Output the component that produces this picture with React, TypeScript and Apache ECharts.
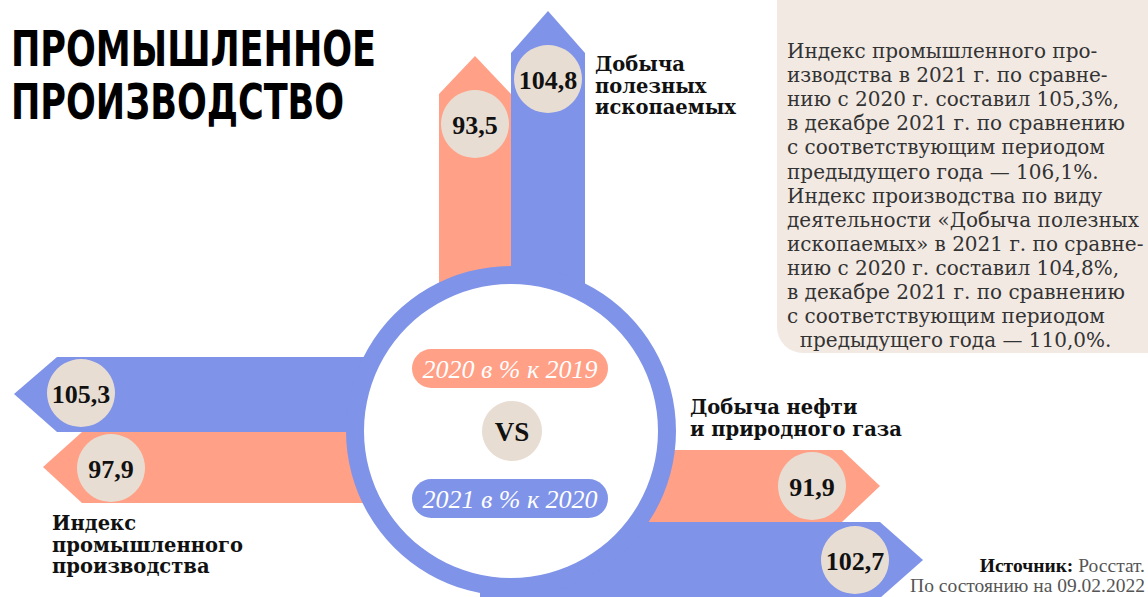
import React, { useEffect, useRef } from "react";
import * as echarts from "echarts";

// ---- data ----
const groupLabels: string[][] = [
  ["Индекс", "промышленного", "производства"],
  ["Добыча", "полезных", "ископаемых"],
  ["Добыча нефти", "и природного газа"],
];
const values2020: number[] = [97.9, 93.5, 91.9]; // 2020 в % к 2019
const values2021: number[] = [105.3, 104.8, 102.7]; // 2021 в % к 2020
const seriesNames: string[] = ["2020 в % к 2019", "2021 в % к 2020"];
const titleLines: string[] = ["ПРОМЫШЛЕННОЕ", "ПРОИЗВОДСТВО"];
const noteLines: string[] = [
  "Индекс промышленного про-",
  "изводства в 2021 г. по сравне-",
  "нию с 2020 г. составил 105,3%,",
  "в декабре 2021 г. по сравнению",
  "с соответствующим периодом",
  "предыдущего года — 106,1%.",
  "Индекс производства по виду",
  "деятельности «Добыча полезных",
  "ископаемых» в 2021 г. по сравне-",
  "нию с 2020 г. составил 104,8%,",
  "в декабре 2021 г. по сравнению",
  "с соответствующим периодом",
  "  предыдущего года — 110,0%.",
];
const sourceLabel = "Источник:";
const sourceName = "Росстат.";
const dateLine = "По состоянию на 09.02.2022";
const vsLabel = "VS";

// ---- styles ----
const BLUE = "#7f93e8";
const ORANGE = "#ffa087";
const BEIGE = "#e8ddd2";
const BOX = "#f2e9e3";
const SERIF = "'DejaVu Serif', serif";
const NUMFONT = "'Liberation Serif', serif";

const fmt = (v: number) => v.toFixed(1).replace(".", ",");

// layout per group: [2020 arrow, 2021 arrow] polygons + value circle centers
const layout = [
  {
    // left
    a2020: [[43, 467], [82, 432], [450, 432], [450, 503], [82, 503]],
    a2021: [[14, 394], [57, 357], [450, 357], [450, 432], [57, 432]],
    c2020: [111, 468],
    c2021: [81, 393],
    label: { x: 52, y: 513 },
  },
  {
    // up
    a2020: [[439, 94], [475, 56], [511, 94], [511, 360], [439, 360]],
    a2021: [[511, 53], [548, 11], [585, 53], [585, 360], [511, 360]],
    c2020: [475, 124],
    c2021: [548, 79],
    label: { x: 595, y: 54 },
  },
  {
    // right
    a2020: [[580, 450], [842, 450], [880, 486], [842, 522], [580, 522]],
    a2021: [[480, 522], [880, 522], [923, 560], [880, 598], [480, 598]],
    c2020: [812, 486],
    c2021: [855, 560],
    label: { x: 690, y: 397 },
  },
];

export default function App() {
  const ref = useRef<HTMLDivElement>(null);
  useEffect(() => {
    if (!ref.current) return;
    const chart = echarts.init(ref.current, null, { renderer: "svg" });
    const els: any[] = [];

    // note box
    els.push({
      type: "rect",
      shape: { x: 777, y: -40, width: 420, height: 393, r: 26 },
      style: { fill: BOX },
    });
    els.push({
      type: "text",
      style: {
        text: noteLines.join("\n"),
        x: 787,
        y: 39,
        fill: "#333",
        font: `20px ${SERIF}`,
        lineHeight: 24.1,
        textAlign: "left",
        textVerticalAlign: "top",
      },
    });

    // title
    titleLines.forEach((t, i) => {
      els.push({
        type: "text",
        x: 11,
        y: 49 + i * 53,
        scaleX: 0.78,
        style: {
          text: t,
          x: 0,
          y: 0,
          fill: "#000",
          font: `bold 50px 'DejaVu Sans Condensed', sans-serif`,
          textAlign: "left",
          textVerticalAlign: "middle",
        },
      });
    });

    // arrows
    layout.forEach((g) => {
      els.push({ type: "polygon", shape: { points: g.a2020 }, style: { fill: ORANGE } });
      els.push({ type: "polygon", shape: { points: g.a2021 }, style: { fill: BLUE } });
    });

    // ring
    els.push({ type: "circle", shape: { cx: 511, cy: 431, r: 165 }, style: { fill: BLUE } });
    els.push({ type: "circle", shape: { cx: 511, cy: 431, r: 147 }, style: { fill: "#fff" } });

    // pills
    [ORANGE, BLUE].forEach((c, i) => {
      const y = i === 0 ? 349 : 479;
      els.push({
        type: "rect",
        shape: { x: 412, y, width: 196, height: 39, r: 19.5 },
        style: { fill: c },
      });
      els.push({
        type: "text",
        style: {
          text: seriesNames[i],
          x: 510,
          y: y + 20,
          fill: "#fff",
          font: `italic 26px ${NUMFONT}`,
          textAlign: "center",
          textVerticalAlign: "middle",
        },
      });
    });
    els.push({ type: "circle", shape: { cx: 512, cy: 431, r: 30 }, style: { fill: BEIGE } });
    els.push({
      type: "text",
      style: {
        text: vsLabel,
        x: 512,
        y: 432,
        fill: "#111",
        font: `bold 27px ${NUMFONT}`,
        textAlign: "center",
        textVerticalAlign: "middle",
      },
    });

    // value circles
    layout.forEach((g, gi) => {
      [
        [g.c2020, values2020[gi]],
        [g.c2021, values2021[gi]],
      ].forEach(([c, v]: any) => {
        els.push({ type: "circle", shape: { cx: c[0], cy: c[1], r: 34 }, style: { fill: BEIGE } });
        els.push({
          type: "text",
          style: {
            text: fmt(v),
            x: c[0],
            y: c[1] + 1,
            fill: "#111",
            font: `bold 26px ${NUMFONT}`,
            textAlign: "center",
            textVerticalAlign: "middle",
          },
        });
      });
      els.push({
        type: "text",
        style: {
          text: groupLabels[gi].join("\n"),
          x: g.label.x,
          y: g.label.y,
          fill: "#111",
          font: `bold 19.5px ${SERIF}`,
          lineHeight: 21.5,
          textAlign: "left",
          textVerticalAlign: "top",
        },
      });
    });

    // source
    els.push({
      type: "text",
      style: {
        text: `{b|${sourceLabel}} ${sourceName}`,
        x: 1145,
        y: 565,
        fill: "#555",
        font: `19.5px ${NUMFONT}`,
        textAlign: "right",
        textVerticalAlign: "middle",
        rich: { b: { font: `bold 19.5px ${NUMFONT}`, fill: "#111" } },
      },
    });
    els.push({
      type: "text",
      style: {
        text: dateLine,
        x: 1145,
        y: 585,
        fill: "#555",
        font: `19.5px ${NUMFONT}`,
        textAlign: "right",
        textVerticalAlign: "middle",
      },
    });

    chart.setOption({ animation: false, graphic: { elements: els } });
    return () => chart.dispose();
  }, []);
  return (
    <div
      ref={ref}
      style={{ position: "fixed", left: 0, top: 0, width: 1148, height: 597, background: "#fff" }}
    />
  );
}
